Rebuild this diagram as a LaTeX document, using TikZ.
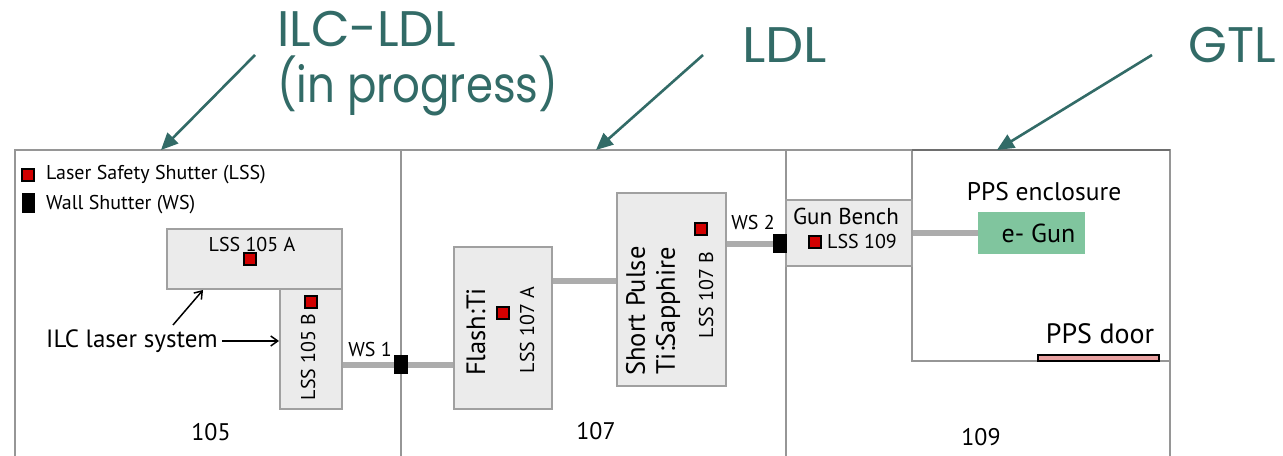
\documentclass[tikz,border=0pt]{standalone}
\usepackage{fontspec}
\setmainfont{PT Sans}
\newfontfamily\handfont{Poppins}
\usetikzlibrary{arrows.meta}

\definecolor{wallgray}{RGB}{150,150,150}
\definecolor{walldark}{RGB}{110,110,110}
\definecolor{boxfill}{RGB}{235,235,235}
\definecolor{boxline}{RGB}{160,160,160}
\definecolor{beamgray}{RGB}{172,172,172}
\definecolor{lssred}{RGB}{210,0,0}
\definecolor{gungreen}{RGB}{128,197,158}
\definecolor{doorpink}{RGB}{232,160,160}
\definecolor{tealnote}{RGB}{50,107,103}

\tikzset{
  wall/.style={draw=wallgray, line width=2.5bp},
  bench/.style={draw=boxline, fill=boxfill, line width=2bp, inner sep=0pt},
  beam/.style={draw=beamgray, line width=6bp},
  lss/.style={draw=black, fill=lssred, line width=1.2bp, minimum size=12bp, inner sep=0pt},
  wallshutter/.style={fill=black, minimum width=14bp, minimum height=19bp, inner sep=0pt},
  txt/.style={font=\fontsize{#1bp}{30bp}\selectfont, inner sep=0pt},
  title/.style={font=\handfont\fontsize{50bp}{56bp}\selectfont, text=tealnote, inner sep=0pt},
  callout/.style={draw=tealnote, line width=2.6bp, -{Triangle[length=17bp,width=15bp]}},
  pointer/.style={draw=black, line width=1.5bp, -{Straight Barb[length=7bp,width=10bp]}}
}

\begin{document}
\begin{tikzpicture}[x=1bp, y=-1bp]
\useasboundingbox (0,0) rectangle (1283,456);
\fill[white] (0,0) rectangle (1283,456);

% ---- room walls ----
\draw[wall] (15,456) -- (15,150) -- (1170,150) -- (1170,456);
\draw[wall] (401,150) -- (401,456);
\draw[wall] (786,150) -- (786,456);
% PPS enclosure
\draw[wall] (912,150) -- (912,361) -- (1170,361);
\draw[draw=walldark, line width=2.5bp] (912,150) -- (1170,150);

% ---- legend ----
\node[lss] (keylss) at (28,175) {};
\node[txt=20, anchor=west] (keylsstxt) at (46,175) {Laser Safety Shutter (LSS)};
\node[fill=black, minimum width=13bp, minimum height=20bp, inner sep=0pt] (keyws) at (28,203) {};
\node[txt=20, anchor=west] (keywstxt) at (46,205) {Wall Shutter (WS)};

% ---- room 105 ----
\node[bench, minimum width=175bp, minimum height=60bp] (b105a) at (254.5,259) {};
\node[bench, minimum width=62bp, minimum height=120bp] (b105b) at (311,349) {};
\node[txt=20] (t105a) at (252,245) {LSS 105 A};
\node[lss] (s105a) at (250,259) {};
\node[lss] (s105b) at (311,302) {};
\node[txt=20, rotate=90] (t105b) at (308,357) {LSS 105 B};
\node[txt=25] (ilc) at (132,341) {ILC laser system};
\coordinate (ilcup) at (173,325);
\coordinate (ilctip) at (203,290);
\draw[pointer] (ilc.east) ++(4,0) -- (b105b.west |- ilc.east);
\draw[pointer] (ilcup) -- (ilctip);
\node[txt=24] (r105) at (211,432) {105};

% ---- room 107 ----
\node[bench, minimum width=98bp, minimum height=162bp] (flash) at (503,328) {};
\node[bench, minimum width=109bp, minimum height=193bp] (spulse) at (671.5,289.5) {};
\node[txt=26.5, rotate=90] (tflash) at (476,332) {Flash:Ti};
\node[lss] (s107a) at (503,313) {};
\node[txt=20, rotate=90] (t107a) at (527,330) {LSS 107 A};
\node[txt=26.5, rotate=90, align=center] (tspulse) at (653,311) {Short Pulse\\Ti:Sapphire};
\node[lss] (s107b) at (701,229) {};
\node[txt=20, rotate=90] (t107b) at (706,295) {LSS 107 B};
\node[txt=24] (r107) at (596,431) {107};

% ---- room 109 ----
\node[bench, minimum width=126bp, minimum height=66bp] (gunbench) at (849,233) {};
\node[txt=23] (tgb) at (846,216) {Gun Bench};
\node[lss] (s109) at (815,242) {};
\node[txt=20, anchor=west] (t109) at (827,242) {LSS 109};
\node[txt=25.5] (ppsenc) at (1044,192) {PPS enclosure};
\node[fill=gungreen, minimum width=107bp, minimum height=42bp,
      txt=26] (egun) at (1031.5,233) {\hspace{14bp}e- Gun};
\node[draw=black, fill=doorpink, line width=1.5bp, minimum width=121bp,
      minimum height=6bp, inner sep=0pt] (door) at (1098.5,358) {};
\node[txt=28] (tdoor) at (1100,334) {PPS door};
\node[txt=24] (r109) at (981,437) {109};

% ---- beam lines and wall shutters ----
\coordinate (ws1pos) at (401,365);
\coordinate (midbeam) at (585,281);
\coordinate (ws2pos) at (779.5,244);
\draw[beam] (ws1pos -| b105b.east) -- (ws1pos -| flash.west);
\draw[beam] (midbeam -| flash.east) -- (midbeam -| spulse.west);
\draw[beam] (ws2pos -| spulse.east) -- (ws2pos -| gunbench.west);
\draw[beam] (gunbench.east) -- (egun.west);
\node[wallshutter] (ws1) at (ws1pos) {};
\node[wallshutter] (ws2) at (ws2pos) {};
\node[txt=20] (tws1) at (370,350) {WS 1};
\node[txt=20] (tws2) at (753,223) {WS 2};

% ---- lab labels ----
\node[title, anchor=base west] (ilcldl) at (277,47) {ILC-LDL};
\node[title, anchor=base west] (inprog) at (277,103) {\scalebox{0.87}[1]{(in progress)}};
\node[title, anchor=base west] (ldl) at (742,63) {\scalebox{1.08}[1]{LDL}};
\node[title, anchor=base west] (gtl) at (1188,63) {GTL};
\coordinate (c1a) at (255,55);
\coordinate (c1b) at (161,150);
\coordinate (c2a) at (703,55);
\coordinate (c2b) at (596,150);
\coordinate (c3a) at (1152,55);
\coordinate (c3b) at (997,150);
\draw[callout] (c1a) -- (c1b);
\draw[callout] (c2a) -- (c2b);
\draw[callout] (c3a) -- (c3b);
\end{tikzpicture}
\end{document}
